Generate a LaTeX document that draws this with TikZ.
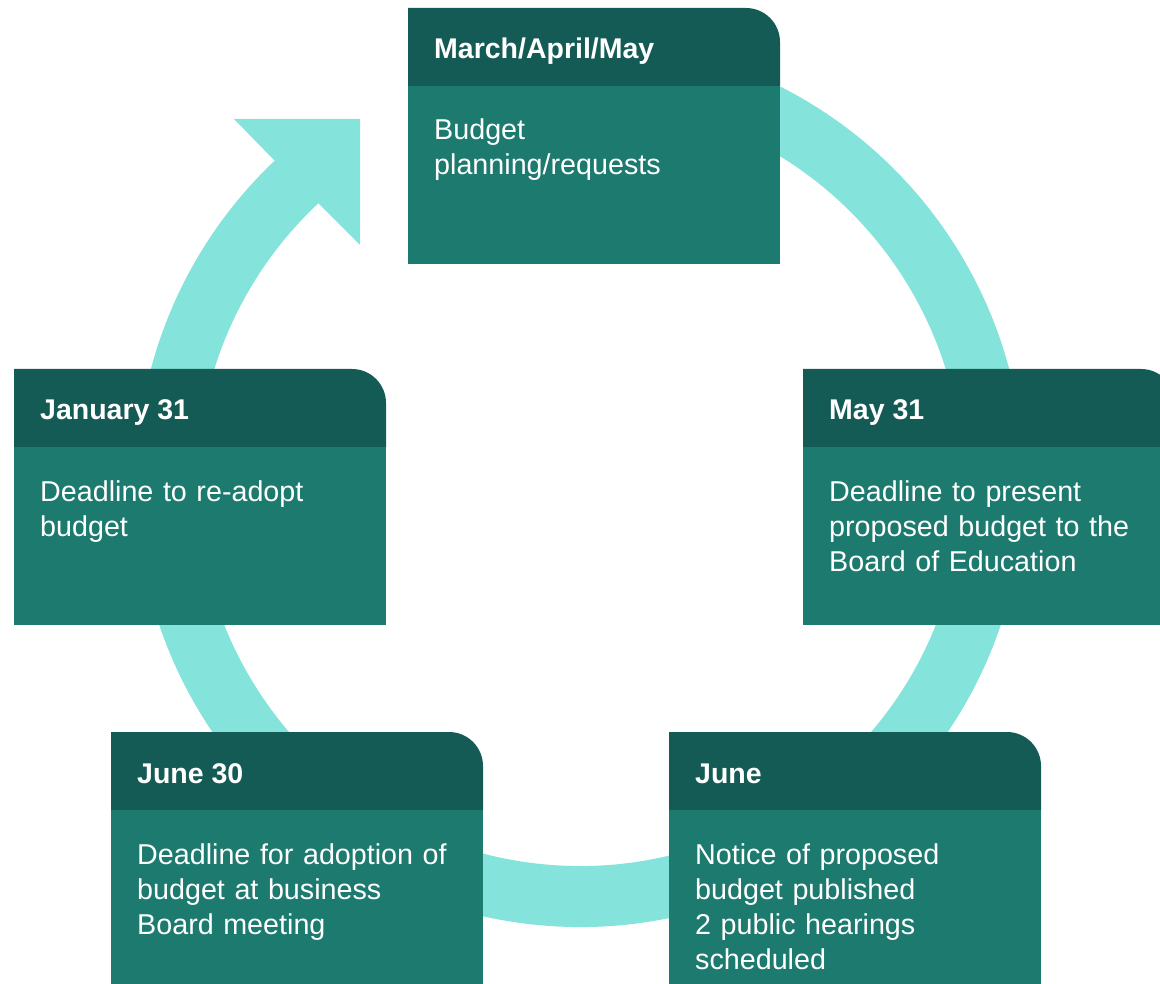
\documentclass[tikz,border=0pt]{standalone}
\usepackage{fontspec}
\setmainfont{Liberation Sans}
\definecolor{hdrc}{RGB}{21,91,85}
\definecolor{bodyc}{RGB}{28,122,111}
\definecolor{ringc}{RGB}{132,227,218}
\tikzset{
  ringband/.style={draw=ringc,line width=61pt,line cap=butt},
  headfill/.style={fill=hdrc},
  bodyfill/.style={fill=bodyc},
  titletext/.style={anchor=base west,inner sep=0pt,text=white,font=\fontsize{28.5}{35}\selectfont\bfseries},
  bodytext/.style={anchor=base west,inner sep=0pt,text=white,text width=345pt,align=left,font=\fontsize{28.7}{35}\selectfont}
}
% #1 x-left, #2 y-top (pixels, downward), #3 name, #4 title, #5 body
\newcommand\stepcard[5]{%
  \fill[headfill] (#1,-#2-78) -- (#1,-#2) -- (#1+338,-#2) arc[start angle=90,end angle=0,radius=34] -- (#1+372,-#2-78) -- cycle;
  \fill[bodyfill] (#1,-#2-78) rectangle (#1+372,-#2-256);
  \node[titletext] (#3-t) at (#1+26,-#2-51) {#4};
  \node[bodytext] (#3-b) at (#1+26,-#2-132) {#5};
}
\begin{document}
\begin{tikzpicture}[x=1pt,y=1pt]
\useasboundingbox (0,0) rectangle (1160,-984);
\clip (0,0) rectangle (1160,-984);
\coordinate (C) at (580,-483);
% ring
\draw[ringband] (C) ++(80:413.5) arc[start angle=80,end angle=-229,radius=413.5];
\coordinate (notchout) at (274,-160);
\coordinate (notchin) at (318,-203);
\coordinate (headtl) at (234,-119);
\coordinate (headtip) at (360,-119);
\coordinate (headbr) at (360,-245);
\fill[ringc] (notchout) -- (headtl) -- (headtip) -- (headbr) -- (notchin) -- cycle;
% cards
\stepcard{408}{8}{mam}{March/April/May}{Budget\\planning/requests}
\stepcard{14}{369}{jan}{January 31}{Deadline to re-adopt\\budget}
\stepcard{803}{369}{may}{May 31}{Deadline to present\\proposed budget to the\\Board of Education}
\stepcard{111}{732}{jun30}{June 30}{Deadline for adoption of\\budget at business\\Board meeting}
\stepcard{669}{732}{jun}{June}{Notice of proposed\\budget published\\2 public hearings\\scheduled}
\end{tikzpicture}
\end{document}
